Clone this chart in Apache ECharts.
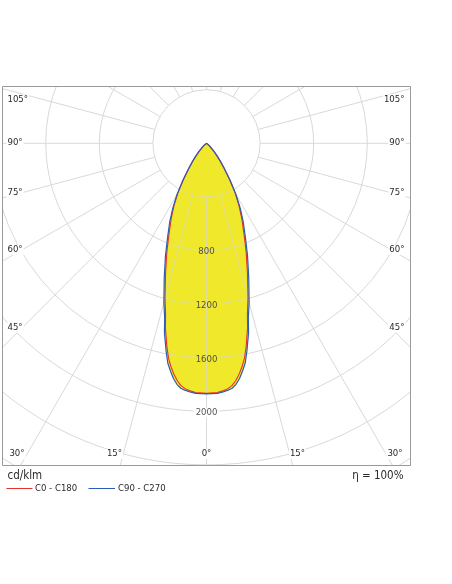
<!DOCTYPE html>
<html>
<head>
<meta charset="utf-8">
<script src="https://cdn.jsdelivr.net/npm/echarts@6/dist/echarts.min.js"></script>
<style>
html,body{margin:0;padding:0;background:#fff;}
#main{width:452px;height:584px;}
</style>
</head>
<body>
<div id="main"></div>
<script>
// ---- data (cd/klm vs. gamma angle, symmetric planes) ----
const gammaDeg = [0, 2.5, 4, 5, 6, 7, 8, 9, 10, 11, 12.5, 13.5, 15, 17.5, 20, 22.5, 25, 27.5, 30, 32.5, 35, 37.5, 40, 42.5, 45, 50, 55, 60, 70, 80, 90];
const c90c270 = [1870, 1868, 1858, 1850, 1838, 1812, 1772, 1720, 1665, 1580, 1450, 1338, 1229, 1048, 896, 758, 650, 545, 440, 330, 240, 175, 125, 85, 55, 25, 12, 6, 3, 1, 0];
const c0c180  = [1866, 1862, 1850, 1838, 1818, 1785, 1742, 1690, 1630, 1548, 1415, 1308, 1196, 1016, 866, 731, 625, 525, 425, 318, 232, 168, 120, 82, 53, 24, 11, 6, 3, 1, 0];
const ringLabels = [800, 1200, 1600, 2000];
const angleLabelsSide = ['105°', '90°', '75°', '60°', '45°'];
const angleLabelsBottom = ['30°', '15°', '0°', '15°', '30°'];
const seriesNames = ['C0 - C180', 'C90 - C270'];
const unitText = 'cd/klm';
const etaText = 'η = 100%';

// ---- layout ----
const CX = 206.5, CY = 143.3, PX400 = 53.6, RMAX = 3200;
const ROUT = RMAX / 400 * PX400;
const FONT = '"DejaVu Sans Condensed", "Liberation Sans", sans-serif';
const GRID = '#d9d9d9';
const RED = '#e8322c', BLUE = '#2c5db6', FILL = '#f0e92b';
const TXT = '#2a2a2a';

function toPolar(vals) {
  // full curve from -90 (left) through 0 (down) to +90 (right)
  const pts = [];
  for (let i = gammaDeg.length - 1; i >= 0; i--) pts.push([vals[i], -gammaDeg[i]]);
  for (let i = 1; i < gammaDeg.length; i++) pts.push([vals[i], gammaDeg[i]]);
  return pts;
}
const bluePts = toPolar(c90c270);
const redPts = toPolar(c0c180);

const chart = echarts.init(document.getElementById('main'), null, {renderer: 'canvas'});

const sideY = [99.5, 142.5, 192.3, 250, 327.7];
const bottomX = [17, 114.5, 206.5, 297.5, 395];

const graphics = [
  {type: 'rect', z: 100, silent: true, shape: {x: 0, y: 0, width: 452, height: 86}, style: {fill: '#fff'}},
  {type: 'rect', z: 100, silent: true, shape: {x: 0, y: 466, width: 452, height: 118}, style: {fill: '#fff'}},
  {type: 'rect', z: 100, silent: true, shape: {x: 0, y: 0, width: 2, height: 584}, style: {fill: '#fff'}},
  {type: 'rect', z: 100, silent: true, shape: {x: 411, y: 0, width: 41, height: 584}, style: {fill: '#fff'}},
  {type: 'rect', z: 101, silent: true, shape: {x: 2.5, y: 86.5, width: 408, height: 379}, style: {fill: null, stroke: '#9a9a9a', lineWidth: 1}}
];
function lbl(t, x, y, align, size) {
  return {type: 'text', z: 102, silent: true,
    style: {text: t, x: x, y: y, font: size + 'px ' + FONT, fill: TXT, align: align, verticalAlign: 'middle',
            backgroundColor: '#fff', padding: [0, 1]}};
}
angleLabelsSide.forEach((t, i) => {
  graphics.push(lbl(t, 6.5, sideY[i], 'left', 9.5));
  graphics.push(lbl(t, 405.5, sideY[i], 'right', 9.5));
});
angleLabelsBottom.forEach((t, i) => {
  graphics.push(lbl(t, bottomX[i], 454, 'center', 9.5));
});
graphics.push({type: 'text', z: 102, style: {text: unitText, x: 7.5, y: 476.5, font: '11.5px ' + FONT, fill: TXT, align: 'left', verticalAlign: 'middle'}});
graphics.push({type: 'text', z: 102, style: {text: etaText, x: 403.5, y: 476.5, font: '11.5px ' + FONT, fill: TXT, align: 'right', verticalAlign: 'middle'}});
// legend
graphics.push({type: 'line', z: 102, shape: {x1: 6.5, y1: 488.5, x2: 32.5, y2: 488.5}, style: {stroke: RED, lineWidth: 1}});
graphics.push({type: 'text', z: 102, style: {text: seriesNames[0], x: 35, y: 488.5, font: '9.5px ' + FONT, fill: TXT, align: 'left', verticalAlign: 'middle'}});
graphics.push({type: 'line', z: 102, shape: {x1: 88.5, y1: 488.5, x2: 115, y2: 488.5}, style: {stroke: BLUE, lineWidth: 1}});
graphics.push({type: 'text', z: 102, style: {text: seriesNames[1], x: 118, y: 488.5, font: '9.5px ' + FONT, fill: TXT, align: 'left', verticalAlign: 'middle'}});

function fillSeries(z, opacity) {
  return {
    type: 'custom', coordinateSystem: 'polar', polarIndex: 0, z: z, silent: true,
    data: bluePts,
    renderItem: function (params, api) {
      if (params.dataIndex !== 0) return null;
      const pts = bluePts.map(p => api.coord(p));
      return {type: 'polygon', shape: {points: pts}, style: {fill: FILL, stroke: null, opacity: opacity}};
    }
  };
}

const option = {
  animation: false,
  backgroundColor: '#fff',
  polar: [
    {center: [CX, CY], radius: [0, ROUT]},
    {center: [CX, CY], radius: [PX400, ROUT]}
  ],
  angleAxis: [
    {polarIndex: 0, type: 'value', min: -180, max: 180, startAngle: 90, clockwise: false, show: false},
    {polarIndex: 1, type: 'value', min: -180, max: 180, interval: 15, startAngle: 90, clockwise: false, z: 3,
     axisLine: {show: false}, axisTick: {show: false}, axisLabel: {show: false},
     splitLine: {show: true, lineStyle: {color: GRID, width: 1}}}
  ],
  radiusAxis: [
    {polarIndex: 0, type: 'value', min: 0, max: RMAX, show: false},
    {polarIndex: 1, type: 'value', min: 400, max: RMAX, interval: 400, z: 3,
     axisLine: {show: false}, axisTick: {show: false}, axisLabel: {show: false},
     splitLine: {show: true, lineStyle: {color: GRID, width: 1}}}
  ],
  series: [
    fillSeries(1, 1),
    fillSeries(4, 0.35),
    {
      name: seriesNames[0], type: 'line', coordinateSystem: 'polar', polarIndex: 0, z: 5,
      data: redPts, showSymbol: false, symbol: 'none', silent: true,
      lineStyle: {color: RED, width: 1.1}
    },
    {
      name: seriesNames[1], type: 'line', coordinateSystem: 'polar', polarIndex: 0, z: 5,
      data: bluePts, showSymbol: false, symbol: 'none', silent: true,
      lineStyle: {color: BLUE, width: 1.2}
    },
    {
      type: 'scatter', coordinateSystem: 'polar', polarIndex: 0, z: 6, silent: true,
      data: ringLabels.map(v => ({
        value: [v, 0],
        label: {backgroundColor: v > c90c270[0] ? '#fff' : 'transparent'}
      })),
      symbolSize: 0,
      label: {show: true, position: 'inside', formatter: p => String(p.value[0]),
              fontSize: 9.5, fontFamily: FONT, color: TXT, offset: [0, 1.5], padding: [0, 2]}
    }
  ],
  graphic: graphics
};
chart.setOption(option);
</script>
</body>
</html>
